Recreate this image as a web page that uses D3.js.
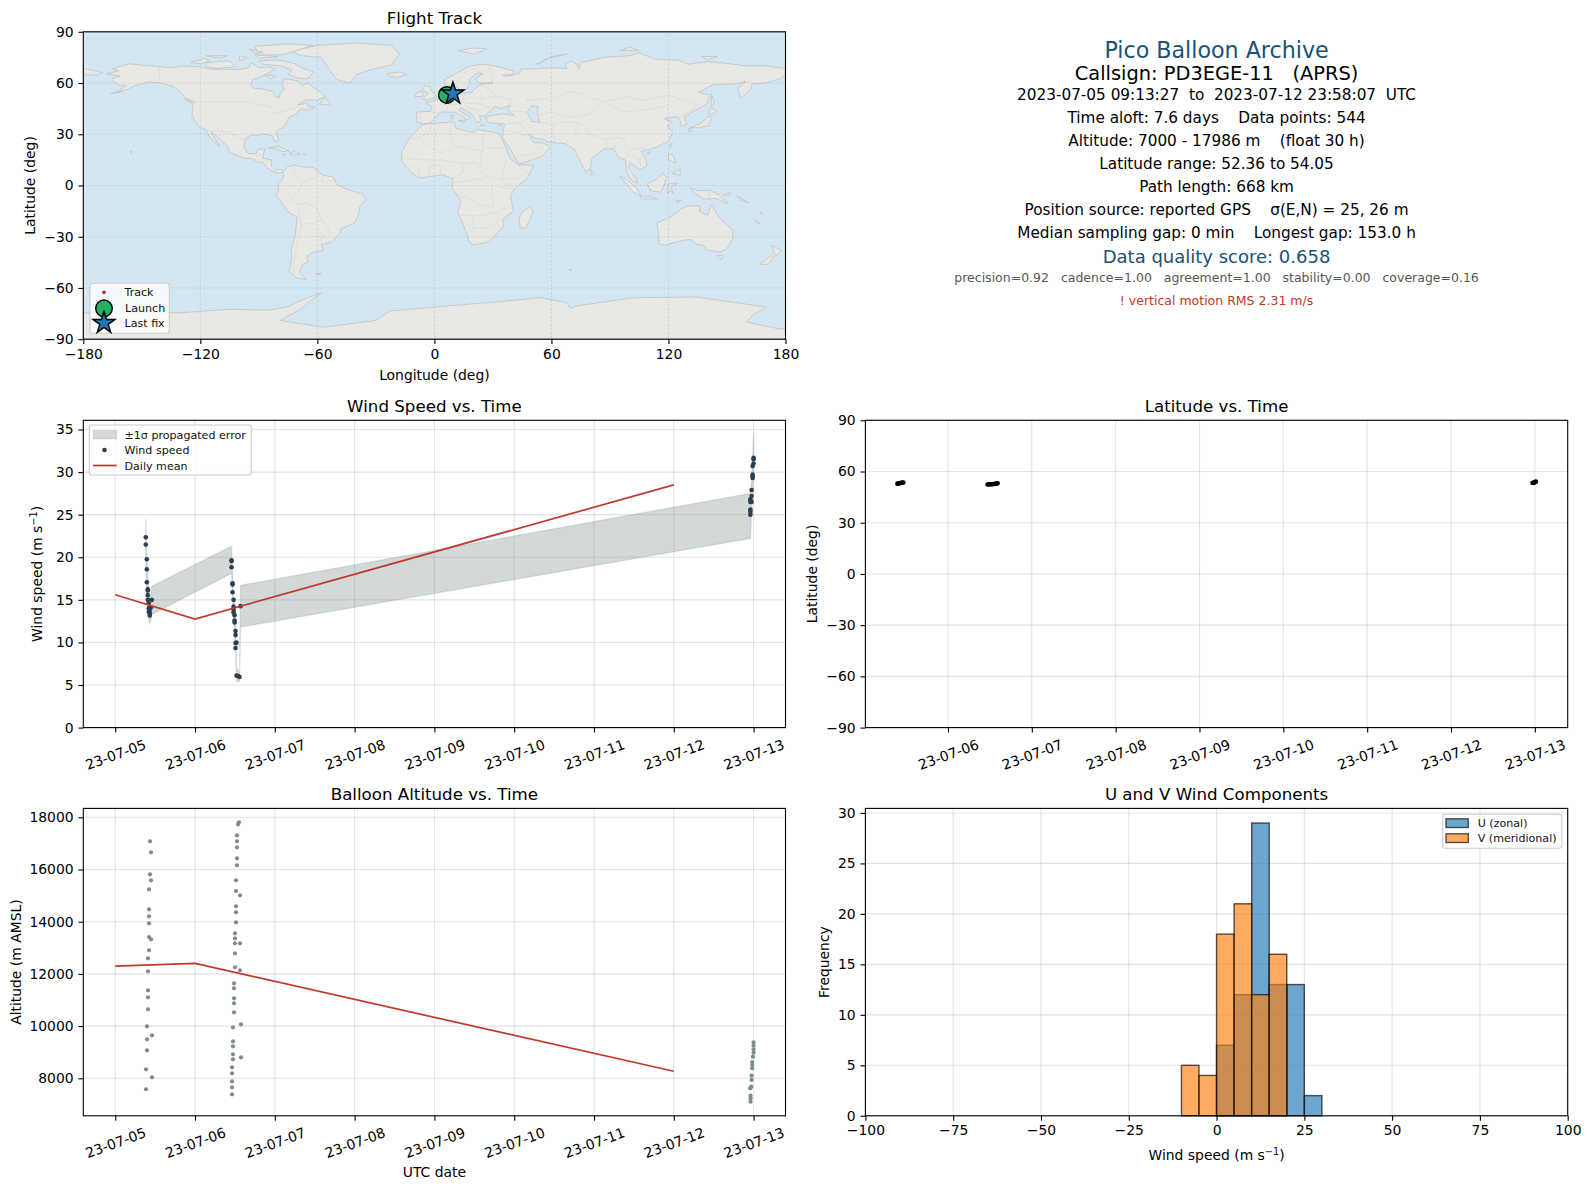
<!DOCTYPE html>
<html>
<head>
<meta charset="utf-8">
<script src="https://cdn.jsdelivr.net/npm/d3@7"></script>
<style>
  body { margin: 0; background: #fff; }
  svg { display: block; }
  text { font-family: 'DejaVu Sans', sans-serif; fill: #000; }
  .axis path, .axis line { stroke: #000; stroke-width: 1.1; }
  .axis text { font-size: 13.9px; }
  .title { font-size: 16.67px; text-anchor: middle; }
  .label { font-size: 13.9px; text-anchor: middle; }
  .legend-text { font-size: 11.1px; fill: #111; }
</style>
</head>
<body>
<div id="chart"></div>
<script>
// ---- data ----
const lonTicks = [-180, -120, -60, 0, 60, 120, 180];
const latTicks = [-90, -60, -30, 0, 30, 60, 90];
const windTicks = [0, 5, 10, 15, 20, 25, 30, 35];
const altTicks = [8000, 10000, 12000, 14000, 16000, 18000];
const histXTicks = [-100, -75, -50, -25, 0, 25, 50, 75, 100];
const histYTicks = [0, 5, 10, 15, 20, 25, 30];

// day of July 2023, wind speed in m/s
const windDays = [5.383, 5.383, 5.396, 5.396, 5.396, 5.408, 5.408, 5.408, 5.408, 5.458, 5.42, 5.446, 5.42, 5.433, 5.42, 5.433, 5.433,
  6.458, 6.458, 6.458, 6.47, 6.47, 6.47, 6.483, 6.483, 6.57, 6.483, 6.483, 6.496, 6.496, 6.496, 6.508, 6.508, 6.52, 6.508, 6.508, 6.52, 6.54, 6.558,
  13.0, 13.0, 13.0, 12.988, 12.988, 12.988, 12.988, 12.975, 12.975, 12.96, 12.975, 12.96, 12.96, 12.96, 12.96];
const windSpeed = [22.34, 21.5, 19.77, 18.6, 17.07, 16.25, 16.1, 15.55, 15.0, 15.0, 14.6, 14.1, 14.0, 13.83, 13.6, 13.44, 13.16,
  19.65, 19.55, 18.83, 16.95, 16.8, 15.9, 15.0, 14.2, 14.26, 13.83, 13.5, 13.2, 12.58, 12.35, 11.33, 10.86, 10.0, 9.92, 9.34, 6.1, 6.05, 5.94,
  31.68, 31.5, 31.0, 30.7, 29.7, 29.5, 29.3, 27.9, 27.2, 26.8, 26.5, 26.5, 25.6, 25.35, 25.0];

// +/-1 sigma envelope
const bandDays = [5.383, 5.396, 5.408, 5.42, 5.433, 5.446, 5.458, 6.458, 6.47, 6.483, 6.496, 6.508, 6.52, 6.54, 6.558, 6.57, 12.96, 12.975, 12.988, 13.0];
const bandLow = [20.1, 15.5, 14.0, 12.8, 12.15, 12.6, 13.3, 18.1, 15.2, 12.5, 11.0, 9.0, 5.5, 5.4, 5.4, 11.8, 22.2, 25.0, 27.5, 29.0];
const bandHigh = [24.5, 20.0, 18.0, 16.0, 14.8, 15.5, 16.6, 21.3, 18.5, 15.5, 14.5, 12.8, 7.0, 6.7, 6.6, 16.7, 27.5, 29.0, 32.0, 34.6];

const meanDays = [5, 6, 12];
const meanWind = [15.6, 12.75, 28.5];
const meanAlt = [12300, 12400, 8270];

const altDays = [5.436, 5.449, 5.436, 5.449, 5.424, 5.424, 5.424, 5.424, 5.424, 5.449, 5.424, 5.411, 5.411, 5.411, 5.411, 5.411, 5.399, 5.461, 5.399, 5.399, 5.386, 5.461, 5.386,
  6.551, 6.539, 6.526, 6.526, 6.526, 6.526, 6.526, 6.514, 6.514, 6.564, 6.514, 6.514, 6.514, 6.501, 6.501, 6.501, 6.564, 6.501, 6.501, 6.564, 6.489, 6.489, 6.489, 6.489, 6.489, 6.476, 6.576, 6.476, 6.476, 6.476, 6.476, 6.576, 6.464, 6.464, 6.464, 6.464, 6.464,
  13.0, 13.0, 13.0, 13.0, 12.992, 12.983, 12.983, 12.983, 12.975, 12.975, 12.971, 12.958, 12.962, 12.962, 12.962];
const altMeters = [17080, 16658, 15815, 15585, 15240, 14474, 14206, 13938, 13414, 13325, 12904, 12597, 12100, 11371, 11103, 10643, 9992, 9647, 9494, 9073, 8345, 8038, 7580,
  17807, 17731, 17309, 17080, 16850, 16428, 16160, 15585, 15177, 15011, 14589, 14360, 13976, 13555, 13363, 13172, 13172, 12789, 12252, 12137, 11640, 11448, 11065, 10873, 10528, 9954, 10069, 9417, 9226, 8919, 8728, 8805, 8421, 8192, 7885, 7655, 7387,
  9380, 9250, 9110, 8983, 8830, 8625, 8510, 8383, 8100, 7936, 7680, 7617, 7336, 7234, 7106];

const latDays = [5.397, 5.407, 5.417, 5.427, 5.437, 5.447, 5.457, 5.467, 6.472, 6.487, 6.502, 6.517, 6.532, 6.547, 6.562, 6.577, 6.592, 12.972, 12.982, 12.992, 13.002, 13.012];
const latValues = [52.9, 53.0, 53.1, 53.2, 53.3, 53.4, 53.5, 53.6, 52.4, 52.45, 52.5, 52.55, 52.6, 52.7, 52.8, 52.9, 53.1, 53.3, 53.45, 53.6, 53.8, 54.05];

const histLeft = [-10, -5, 0, 5, 10, 15, 20, 25];
const histU = [0, 0, 7, 12, 29, 13, 13, 2];
const histV = [5, 4, 18, 21, 12, 16, 0, 0];
const binWidth = 5;

const launchPoint = [6.4, 53];
const lastFixPoint = [9.5, 53.8];

const infoLines = [
  'Pico Balloon Archive',
  'Callsign: PD3EGE-11   (APRS)',
  '2023-07-05 09:13:27  to  2023-07-12 23:58:07  UTC',
  'Time aloft: 7.6 days    Data points: 544',
  'Altitude: 7000 - 17986 m    (float 30 h)',
  'Latitude range: 52.36 to 54.05',
  'Path length: 668 km',
  'Position source: reported GPS    σ(E,N) = 25, 26 m',
  'Median sampling gap: 0 min    Longest gap: 153.0 h',
  'Data quality score: 0.658',
  'precision=0.92   cadence=1.00   agreement=1.00   stability=0.00   coverage=0.16',
  '! vertical motion RMS 2.31 m/s'
];

// land outlines, lon/lat
const northAmerica = [[-168,65.5],[-164,66.5],[-162,67],[-165,68.5],[-156.5,71.3],[-150,70.5],[-141,69.6],[-135,69],[-128,70],[-120,69.5],[-115,68],[-108,68],[-100,68],[-95,69],[-94,72],[-90,69],[-85,69.5],[-81.5,68],[-85,66],[-87,64.5],[-93,62],[-94.5,59],[-92.5,57],[-88,56.5],[-82.5,55],[-82,52.5],[-79.5,51.2],[-79,54.5],[-77,56],[-78,59],[-77.5,62.5],[-73,62],[-69.5,61],[-68,58.5],[-65,60],[-62,57.5],[-58,54.5],[-56,52],[-60,50],[-66.5,50],[-70,47],[-65,48.5],[-64.5,46],[-61,46],[-64,44.5],[-66,44],[-67,45],[-70,43.5],[-70.5,41.7],[-74,40.5],[-75.5,38],[-76,35.5],[-78,34],[-81,31.5],[-80,27],[-80.5,25.2],[-81.8,26],[-83,29],[-85,29.7],[-89,30.2],[-90,29.2],[-94,29.5],[-97,27.5],[-97.7,22.5],[-95.5,18.8],[-91.5,18.5],[-90.5,21],[-87,21.5],[-88,16],[-83.5,15],[-83.5,11],[-81.5,9],[-79.5,9.5],[-77.3,8.6],[-78,7.5],[-80.5,7.3],[-83,8.3],[-85.5,10],[-87.5,13],[-91,14],[-94,16],[-97,15.8],[-101,17.5],[-105.5,20],[-105.5,22.5],[-109,26],[-112.5,30],[-114.7,31.7],[-112.3,27],[-110,23],[-112,24.5],[-115,28],[-117,32.5],[-120.5,34.5],[-122.5,37.5],[-124.3,40.5],[-124,46],[-123,49],[-127.5,51],[-130,54.5],[-134,58],[-140,60],[-146,60.7],[-152,59],[-157,56.5],[-163,54.8],[-158,58.5],[-162,59],[-165,61.5],[-165,63],[-161,64]];
const southAmerica = [[-77.3,8.6],[-75,11],[-72,12],[-68,11],[-62,10.5],[-57,6],[-52,5],[-50,0.5],[-44,-2.5],[-37,-5],[-35,-8],[-38.5,-13],[-39,-18],[-41,-22],[-48,-25.5],[-48.5,-28],[-53,-33.5],[-58,-34.5],[-57,-38],[-62,-39],[-65,-41],[-65,-45],[-67.5,-46],[-69,-51],[-65.5,-55],[-71,-54],[-74.5,-50],[-73,-42],[-73.5,-37],[-71.5,-30],[-70.3,-18.5],[-75,-15.5],[-81,-6],[-80,-2],[-80,1],[-77.5,4]];
const africa = [[-6,35.8],[10,37.3],[11,33.5],[20,31],[22,32.8],[32,31],[34.5,28],[37,21],[39,15.5],[43,12],[51,12],[47.5,4],[41,-2],[39,-6],[40.5,-15],[35,-20],[35.5,-24],[32.8,-27],[28,-33],[20,-34.8],[18,-33],[14.5,-22],[12,-16],[13.5,-9],[9,-1],[9.5,4],[4,6.3],[-4,5],[-8,4.4],[-13,9],[-17,14.5],[-16.5,20],[-13,27.5],[-9.5,31.5]];
const eurasia = [[-9,37],[-9,43],[-2,43.5],[-1,46],[-4.5,48.5],[1.5,50],[4,52],[8,54],[8,57],[10.5,57.5],[10,54.5],[14,54],[19,54.5],[21,57],[24,59.3],[30,60],[23,60],[21,62.5],[25,65.5],[22,65.8],[17.5,62],[18.5,60],[16.5,56.5],[13,55.5],[11,59],[6,58],[5,62],[12,66],[18,70],[25,71],[31,70],[41,67],[40,65],[35,64.5],[38,64],[44,66],[44,68],[54,68.5],[60,69],[68,68.5],[67,71],[70,73],[73,71],[74,68],[75,72],[81,73.5],[87,75],[100,76],[105,77.7],[113,74],[125,73.5],[130,71],[140,72.5],[150,71.5],[160,70],[170,70],[180,68.5],[180,65],[177,62.5],[170,60],[163,59.5],[162,56],[157,51],[155.5,57],[160,61],[155,59.5],[143,59],[135.5,54.5],[141,53],[140,48],[132,43],[128,40],[129.5,36],[126.5,34.5],[126,38],[125,40],[122,40],[118,39],[122,37],[119.5,35],[122,31],[120,26],[114,22.5],[110,21],[106,20],[108.5,15],[109,11.5],[105,9],[100.5,13.5],[99.5,10],[103.5,4],[104,1.3],[101,3],[98.5,8],[98,15],[94.5,16],[92,21.5],[87,21.5],[80.5,15.5],[80,10],[77.5,8],[73,18],[72,21],[67,24.5],[62,25],[57,26],[56.5,27],[52,27.5],[48.5,30],[51,25],[55,25],[56.5,24.5],[59.5,22.5],[55,17],[45,13],[43,13],[39,21],[35,28],[35,31],[36,36],[31,36.5],[27,37],[26.5,40],[29,41],[35,42],[41,41],[37.5,44.5],[39,47],[34,45],[31,46.5],[28,43],[26,40.7],[23,40.5],[24,38],[22,36.7],[19.5,41],[19,42],[13.5,45.5],[12.5,44],[18.5,40],[16,38],[15.5,40],[10.5,43],[3.5,43],[0,39.5],[-2,36.7],[-5.5,36]];
const antarctica = [[-180,-74.5],[-130,-74.5],[-105,-72.5],[-85,-73],[-75,-71],[-68,-67],[-58,-63],[-63,-67],[-68,-72],[-79,-79],[-57,-83],[-30,-79],[-23,-73.5],[6,-70.6],[33.7,-68],[54,-65.7],[67.9,-68.6],[69.6,-72],[73,-70.5],[102,-65.7],[134.5,-65.3],[170.4,-71.2],[163.6,-75.5],[160,-80],[177,-84],[180,-84],[180,-90],[-180,-90]];
const islands = [
  [[-73,78.2],[-68,80],[-60,82],[-40,83.5],[-22,82],[-18,77],[-22,70.5],[-32,68],[-40,65],[-43,60],[-50,62],[-53,66.5],[-55,70],[-58,75],[-68,76]],
  [[-80,73.5],[-72,71.5],[-68,69],[-62,66.5],[-65,62.5],[-70,63],[-75,65],[-73,67.5],[-78,70],[-88,71],[-90,73]],
  [[-117,72],[-105,73],[-102,69.5],[-112,68.5],[-117,69.5]],
  [[-125,72],[-118,74.5],[-115,73],[-120,71.3]],
  [[-90,76.5],[-78,76.5],[-72,78.5],[-62,82],[-75,83],[-92,81.5]],
  [[-92,76.5],[-80,75.5],[-90,74.5]],
  [[-117,76],[-106,76],[-110,74.5]],
  [[-100,76],[-96,75],[-100,73]],
  [[-95,80],[-88,78],[-92,77.5]],
  [[-87,65],[-81,64],[-84,62.5]],
  [[-59,47.7],[-56,51.5],[-53,47]],
  [[-128,50.7],[-124,49],[-125,48.5]],
  [[-85,22],[-80,23],[-74.3,20.2],[-78,19.9],[-82,22]],
  [[-74.5,18.5],[-72,20],[-68.5,18.5],[-71.5,17.8]],
  [[-78.3,18.4],[-76.3,18.2],[-77,17.8]],
  [[-67.2,18.4],[-65.7,18.3],[-66.5,17.9]],
  [[-156,20.2],[-155,19.7],[-155.7,19]],
  [[-160,55.2],[-165,54.3],[-166,53.7],[-161,54.7]],
  [[-24,65.5],[-18,66.5],[-14,65],[-19,63.4],[-23,64]],
  [[-5.5,50],[1.5,51.3],[0,54],[-2,56],[-2,58],[-5,58.5],[-6,56],[-3,54],[-5,52]],
  [[-10,52],[-6,52.2],[-6,55],[-9,54.5]],
  [[12,79],[20,80.5],[27,80],[20,77]],
  [[52,71],[57,74],[68,77],[60,75.5],[55,72]],
  [[95,79],[105,79],[100,81]],
  [[137,75.5],[145,75.5],[140,73.5]],
  [[142,54],[143.5,49],[142,46],[142,50]],
  [[131,34],[136,36],[140,40],[141.5,41],[142,39],[140.5,35],[136,33.8]],
  [[140,42],[142,45.5],[145,43.5],[143,42]],
  [[130,33.5],[132,33],[131,31]],
  [[120.5,23],[122,25],[121,22]],
  [[109,19],[111,20],[110,18.3]],
  [[80,9.5],[82,7],[80.5,6]],
  [[120,18],[122,18.5],[124,13],[122,14],[120,15]],
  [[122,7],[126,9.5],[126,6]],
  [[109,1],[113,3],[117,7],[119,5],[118,1],[116,-4],[111,-3]],
  [[95,5.5],[98,4],[104,-2],[106,-6],[102,-4]],
  [[105.5,-6.5],[111,-6.5],[114.5,-8],[106,-7.8]],
  [[119.5,-5],[120,1],[125,1.5],[121,-1],[123,-5],[121,-3]],
  [[131,-1],[135,-3],[141,-2.7],[146,-5.5],[150.5,-10.5],[144,-7.5],[138,-8],[133,-4]],
  [[148,-5.5],[152,-4],[151,-6]],
  [[155,-6],[158,-8],[161,-10],[157,-8.5]],
  [[167,-15],[168,-16.5],[167,-16.5]],
  [[124,-9],[127,-8.5],[124,-10]],
  [[114,-22],[122,-18],[126,-14],[130,-12],[136,-12],[136,-15],[140,-17.5],[142,-11],[146,-19],[153,-26],[153,-31],[150,-37],[146.5,-39],[140,-38],[138,-35],[135,-34.7],[131,-31.5],[124,-33],[118,-35],[115,-34],[115,-30]],
  [[145,-41],[148,-41],[147,-43.5]],
  [[173,-35],[178,-38],[175,-41.5],[174,-39]],
  [[172.5,-41],[174,-42],[170.5,-46.5],[167,-46]],
  [[164,-20],[167,-22.5],[166,-22]],
  [[49.5,-12],[50.5,-16],[47,-25],[44,-25],[43.5,-20],[44.5,-16]],
  [[-61,-51.5],[-58,-51.5],[-59,-52.3]],
  [[69,-49],[70.5,-49.5],[69.5,-49.8]],
  [[33,35.5],[34.5,35.6],[33.5,34.6]],
  [[23.5,35.5],[26,35.2],[24,35]],
  [[8.3,41],[9.7,41],[9.5,39],[8.5,39]],
  [[12.5,38],[15.5,38.2],[15,36.7]],
  [[-180,68.5],[-175,67.5],[-170,66],[-173,64.5],[-180,65]]
];
const caspian = [[50,46.5],[53,46.5],[53,41],[54,37],[50,37.5],[49,40],[47.5,43]];

// country borders, kept rough
const borders = [
  [[-141,69.6],[-141,60]], [[-123,49],[-95,49],[-84,46],[-82,42],[-76,44],[-70,46],[-67,45]],
  [[-117,32.5],[-106,31.5],[-97,26]], [[-92,14.5],[-91,17.5],[-89,18]], [[-89,14],[-83.5,15]],
  [[-72,12],[-72,7],[-67,2],[-70,-4],[-74,-8],[-70,-11],[-69,-17],[-70.3,-18.5]],
  [[-60,8],[-60,5],[-64,4],[-67,2]], [[-57,6],[-58,2],[-52,3]],
  [[-70,-11],[-65,-10],[-60,-14],[-58,-20],[-55,-24],[-54,-27],[-57,-30],[-53,-33.5]],
  [[-69,-17],[-68,-23],[-62,-22],[-58,-20]], [[-68,-23],[-70,-33],[-72,-45],[-72,-52]],
  [[-80,-3],[-75,-1],[-72,0]], [[-58,-27],[-58,-34]],
  [[-2,35],[-2,32],[-8,28],[-13,27.5]], [[-8,28],[-5,25],[3,19],[12,23],[25,20],[25,31]],
  [[9,37],[8,31],[10,24],[12,23]], [[25,22],[37,22]], [[24,20],[24,12],[22,10],[27,5],[34,4],[41,-2]],
  [[-16.5,16],[-5,15],[3,15],[14,13],[15,8],[9.5,4]], [[-8,4.4],[-8,10],[-12,12]], [[-3,5],[-3,11],[3,12],[3,6.3]],
  [[14,13],[22,13],[24,12]], [[34,4],[36,12],[37,15]], [[34,4],[42,4],[48,8],[43,11]],
  [[12,-6],[17,-7],[22,-11],[30,-13],[30,-9],[29,-2],[30,1],[27,5]], [[12,-17],[24,-18],[33,-15],[40.5,-11]],
  [[17,-29],[20,-25],[20,-18]], [[20,-25],[26,-25],[32,-22],[33,-15]], [[9.5,2],[14,2],[18,3],[27,5]], [[34,-1],[41,-2]],
  [[2,51],[6,49.5],[7.5,47.5],[6,44]], [[-1.7,43.3],[3,42.5]], [[-7,42],[-7,37]], [[7,54],[6,51],[6,49.5]],
  [[14,54],[15,51],[13,48],[10,47.5],[7.5,47.5]], [[24,54],[24,51],[22.5,48],[16,48],[15,51]], [[22.5,48],[28,45.5],[29,45]],
  [[16,46],[22,44],[23,41]], [[24,59],[28,56],[32,52],[24,51]], [[28,69.5],[30,62],[28,60]], [[20,69],[24,66]], [[12,61],[18,69]],
  [[32,52],[40,50],[38,47]], [[47.5,43],[40,43.5]], [[50,46.5],[47,50],[60,51],[70,55],[77,53],[87,49]],
  [[53,41],[60,43],[66,41],[73,40],[80,42],[87,49]], [[87,49],[98,52],[107,50],[120,53],[127,50],[135,48],[131,43]],
  [[87,49],[97,43],[112,45],[120,47]], [[54,37],[61,36],[61,30],[62,25]], [[61,36],[66,37],[74,37],[72,30],[67,24.5]],
  [[74,37],[78,33],[79,30],[88,27],[92,28],[97,28],[98,24],[101,21],[106,22],[108,21.5]], [[88,27],[88,22]], [[92,25],[92,21.5]],
  [[97,28],[94,24],[92,21.5]], [[98,15],[101,21]], [[101,18],[105,15],[106,11]], [[105,15],[107,17]],
  [[36,36],[44,37],[46,33],[48,30]], [[36,32],[39,32],[47,29]], [[44,37],[48,39],[49,40]], [[52,22],[55,22],[55,20],[52,17]], [[43,17],[48,18],[52,19]],
  [[125,40],[130,42.5]], [[141,-2.7],[141,-9]]
];

// ---- layout ----
const W = 1589, H = 1189;
const col = [{ left: 83.3, right: 785.5 }, { left: 865.4, right: 1567.7 }];
const row = [{ top: 31.8, bottom: 339.2 }, { top: 420.3, bottom: 727.6 }, { top: 808.4, bottom: 1115.8 }];

const dayDate = d => new Date(Date.UTC(2023, 6, 0) + d * 864e5);
const tickDate = d3.utcFormat('%y-%m-%d');

const svg = d3.select('#chart').append('svg').attr('width', W).attr('height', H);

const panel = (c, r) => {
  const { left, right } = col[c];
  const { top, bottom } = row[r];
  const g = svg.append('g');
  const plot = g.append('g');
  return { g, plot, left, right, top, bottom };
};

const frame = p =>
  p.g.append('rect')
    .attr('x', p.left).attr('y', p.top)
    .attr('width', p.right - p.left).attr('height', p.bottom - p.top)
    .attr('fill', 'none').attr('stroke', '#000').attr('stroke-width', 1.1);

const title = (p, t) =>
  p.g.append('text').attr('class', 'title')
    .attr('x', (p.left + p.right) / 2).attr('y', p.top - 8.3).text(t);

const xLabel = (p, y, t) => {
  const el = p.g.append('text').attr('class', 'label')
    .attr('x', (p.left + p.right) / 2).attr('y', y);
  return fillLabel(el, t);
};

const yLabel = (p, x, t) => {
  const el = p.g.append('text').attr('class', 'label')
    .attr('transform', `translate(${x},${(p.top + p.bottom) / 2}) rotate(-90)`)
    .attr('dy', '0.35em');
  return fillLabel(el, t);
};

// 'm s-1' gets a proper superscript
const fillLabel = (el, t) => {
  if (!t.endsWith('^')) return el.text(t);
  el.append('tspan').text('Wind speed (m s');
  el.append('tspan').attr('dy', -5).style('font-size', '9.7px').text('−1');
  el.append('tspan').attr('dy', 5).text(')');
  return el;
};

const grid = (p, xs, ys, x, y, dashed) => {
  const g = p.plot.append('g')
    .attr('stroke', dashed ? '#808080' : '#b0b0b0')
    .attr('stroke-opacity', dashed ? 0.22 : 0.35)
    .attr('stroke-width', dashed ? 1 : 1.1)
    .attr('stroke-dasharray', dashed ? '2,2' : null);
  g.selectAll('.gx').data(xs).join('line').attr('class', 'gx')
    .attr('x1', d => x(d)).attr('x2', d => x(d)).attr('y1', p.top).attr('y2', p.bottom);
  g.selectAll('.gy').data(ys).join('line').attr('class', 'gy')
    .attr('y1', d => y(d)).attr('y2', d => y(d)).attr('x1', p.left).attr('x2', p.right);
};

const axisLeft = (p, y, ticks) =>
  p.g.append('g').attr('class', 'axis')
    .attr('transform', `translate(${p.left},0)`)
    .call(d3.axisLeft(y).tickValues(ticks).tickSize(4.86).tickPadding(4.86).tickFormat(d => String(d).replace('-', '−')))
    .call(g => g.select('.domain').remove());

const axisBottom = (p, x, ticks) =>
  p.g.append('g').attr('class', 'axis')
    .attr('transform', `translate(0,${p.bottom})`)
    .call(d3.axisBottom(x).tickValues(ticks).tickSize(4.86).tickPadding(4.86).tickFormat(d => String(d).replace('-', '−')))
    .call(g => g.select('.domain').remove());

const dateAxis = (p, x) =>
  p.g.append('g').attr('class', 'axis')
    .attr('transform', `translate(0,${p.bottom})`)
    .call(d3.axisBottom(x).ticks(d3.utcDay.every(1)).tickSize(4.86).tickFormat(tickDate))
    .call(g => g.select('.domain').remove())
    .call(g => g.selectAll('text')
      .attr('y', 0).attr('dy', '0.35em')
      .attr('transform', 'translate(0,27) rotate(-20)')
      .attr('text-anchor', 'middle'));

const legendBox = (p, x0, y0, x1, y1) =>
  p.g.append('rect')
    .attr('x', x0).attr('y', y0).attr('width', x1 - x0).attr('height', y1 - y0)
    .attr('rx', 2.5)
    .attr('fill', '#fff').attr('fill-opacity', 0.8)
    .attr('stroke', '#ccc').attr('stroke-width', 1.1);

const legendText = (p, x, y, t) =>
  p.g.append('text').attr('class', 'legend-text')
    .attr('x', x).attr('y', y).attr('dy', '0.35em').text(t);

const star = d3.symbol().type(d3.symbolStar);

// ---- flight track ----
{
  const p = panel(0, 0);
  const x = d3.scaleLinear().domain([-180, 180]).range([p.left, p.right]);
  const y = d3.scaleLinear().domain([-90, 90]).range([p.bottom, p.top]);
  const line = d3.line(d => x(d[0]), d => y(d[1])).curve(d3.curveLinearClosed);

  p.plot.append('rect')
    .attr('x', p.left).attr('y', p.top)
    .attr('width', p.right - p.left).attr('height', p.bottom - p.top)
    .attr('fill', '#d4e6f1');

  const land = [northAmerica, southAmerica, africa, eurasia, antarctica, ...islands];
  p.plot.append('g')
    .selectAll('path').data(land).join('path')
    .attr('d', line)
    .attr('fill', '#e8e8e4')
    .attr('stroke', '#c2c7ca').attr('stroke-width', 0.9).attr('stroke-linejoin', 'round');

  p.plot.append('path').attr('d', line(caspian))
    .attr('fill', '#d4e6f1').attr('stroke', '#c2c7ca').attr('stroke-width', 0.9);

  p.plot.append('g')
    .selectAll('path').data(borders).join('path')
    .attr('d', d3.line(d => x(d[0]), d => y(d[1])))
    .attr('fill', 'none').attr('stroke', '#d9d9d7').attr('stroke-width', 0.7);

  grid(p, lonTicks, latTicks, x, y, true);

  // launch and last fix
  p.plot.append('circle')
    .attr('cx', x(launchPoint[0])).attr('cy', y(launchPoint[1])).attr('r', 8.3)
    .attr('fill', '#27ae60').attr('stroke', '#000').attr('stroke-width', 1.4);
  p.plot.append('path')
    .attr('transform', `translate(${x(lastFixPoint[0])},${y(lastFixPoint[1])})`)
    .attr('d', star.size(150)())
    .attr('fill', '#1f77b4').attr('stroke', '#000').attr('stroke-width', 1.4);

  frame(p);
  axisLeft(p, y, latTicks);
  axisBottom(p, x, lonTicks);
  title(p, 'Flight Track');
  xLabel(p, 380, 'Longitude (deg)');
  yLabel(p, 30.5, 'Latitude (deg)');

  legendBox(p, 90, 283.3, 169.3, 333.3);
  p.g.append('circle').attr('cx', 104).attr('cy', 292.3).attr('r', 1.9).attr('fill', '#c0392b');
  p.g.append('circle').attr('cx', 104).attr('cy', 308.3).attr('r', 8.3)
    .attr('fill', '#27ae60').attr('stroke', '#000').attr('stroke-width', 1.4);
  p.g.append('path').attr('transform', 'translate(104,323)')
    .attr('d', star.size(150)())
    .attr('fill', '#1f77b4').attr('stroke', '#000').attr('stroke-width', 1.4);
  legendText(p, 124.5, 292.3, 'Track');
  legendText(p, 125, 308.3, 'Launch');
  legendText(p, 124.5, 323.3, 'Last fix');
}

// ---- info text ----
{
  const ys = [50.5, 73.3, 94.3, 117.3, 140.3, 163.3, 186.3, 209.3, 232.3, 256.7, 277.7, 300.3];
  const sizes = [22.2, 19.4, 15.28, 15.28, 15.28, 15.28, 15.28, 15.28, 15.28, 18, 12.5, 12.5];
  const fills = ['#1a5276', '#000', '#000', '#000', '#000', '#000', '#000', '#000', '#000', '#1a5276', '#555', '#c0392b'];
  svg.append('g').selectAll('text').data(infoLines).join('text')
    .attr('x', (col[1].left + col[1].right) / 2)
    .attr('y', (d, i) => ys[i])
    .attr('dy', '0.35em')
    .attr('text-anchor', 'middle')
    .style('white-space', 'pre')
    .style('font-size', (d, i) => sizes[i] + 'px')
    .style('fill', (d, i) => fills[i])
    .text(d => d);
}

// ---- wind speed ----
{
  const p = panel(0, 1);
  const x = d3.scaleUtc().domain([dayDate(4.6), dayDate(13.4)]).range([p.left, p.right]);
  const y = d3.scaleLinear().domain([0, 36.08]).range([p.bottom, p.top]);
  grid(p, x.ticks(d3.utcDay.every(1)), windTicks, x, y);

  const band = d3.area()
    .x((d, i) => x(dayDate(bandDays[i])))
    .y0((d, i) => y(bandLow[i]))
    .y1((d, i) => y(bandHigh[i]));
  p.plot.append('path').attr('d', band(bandDays))
    .attr('fill', '#7f8c8d').attr('fill-opacity', 0.34)
    .attr('stroke', '#7f8c8d').attr('stroke-opacity', 0.2).attr('stroke-width', 1.4);

  p.plot.append('g').selectAll('circle').data(windDays).join('circle')
    .attr('cx', d => x(dayDate(d)))
    .attr('cy', (d, i) => y(windSpeed[i]))
    .attr('r', 2.3).attr('fill', '#2c3e50');

  p.plot.append('path')
    .attr('d', d3.line((d, i) => x(dayDate(d)), (d, i) => y(meanWind[i]))(meanDays))
    .attr('fill', 'none').attr('stroke', '#c0392b').attr('stroke-width', 1.7);

  frame(p);
  axisLeft(p, y, windTicks);
  dateAxis(p, x);
  title(p, 'Wind Speed vs. Time');
  yLabel(p, 37.5, 'm s^');

  legendBox(p, 89.3, 425, 251.3, 475);
  p.g.append('rect').attr('x', 93.3).attr('y', 430.3).attr('width', 23.4).attr('height', 8.7)
    .attr('fill', '#7f8c8d').attr('fill-opacity', 0.34).attr('stroke', '#7f8c8d').attr('stroke-opacity', 0.2);
  p.g.append('circle').attr('cx', 104.5).attr('cy', 450).attr('r', 2.3).attr('fill', '#2c3e50');
  p.g.append('line').attr('x1', 93).attr('x2', 116.7).attr('y1', 465.5).attr('y2', 465.5)
    .attr('stroke', '#c0392b').attr('stroke-width', 1.7);
  legendText(p, 124.5, 435, '±1σ propagated error');
  legendText(p, 124.5, 450, 'Wind speed');
  legendText(p, 124.5, 466, 'Daily mean');
}

// ---- latitude ----
{
  const p = panel(1, 1);
  const x = d3.scaleUtc().domain([dayDate(5.015), dayDate(13.392)]).range([p.left, p.right]);
  const y = d3.scaleLinear().domain([-90, 90]).range([p.bottom, p.top]);
  grid(p, x.ticks(d3.utcDay.every(1)), latTicks, x, y);
  p.plot.append('g').selectAll('circle').data(latDays).join('circle')
    .attr('cx', d => x(dayDate(d)))
    .attr('cy', (d, i) => y(latValues[i]))
    .attr('r', 2.3).attr('fill', '#000');
  frame(p);
  axisLeft(p, y, latTicks);
  dateAxis(p, x);
  title(p, 'Latitude vs. Time');
  yLabel(p, 811.7, 'Latitude (deg)');
}

// ---- altitude ----
{
  const p = panel(0, 2);
  const x = d3.scaleUtc().domain([dayDate(4.6), dayDate(13.4)]).range([p.left, p.right]);
  const y = d3.scaleLinear().domain([6563, 18341]).range([p.bottom, p.top]);
  grid(p, x.ticks(d3.utcDay.every(1)), altTicks, x, y);
  p.plot.append('g').selectAll('circle').data(altDays).join('circle')
    .attr('cx', d => x(dayDate(d)))
    .attr('cy', (d, i) => y(altMeters[i]))
    .attr('r', 2.1).attr('fill', '#7f8c8d');
  p.plot.append('path')
    .attr('d', d3.line((d, i) => x(dayDate(d)), (d, i) => y(meanAlt[i]))(meanDays))
    .attr('fill', 'none').attr('stroke', '#c0392b').attr('stroke-width', 1.7);
  frame(p);
  axisLeft(p, y, altTicks);
  dateAxis(p, x);
  title(p, 'Balloon Altitude vs. Time');
  xLabel(p, 1177, 'UTC date');
  yLabel(p, 16.2, 'Altitude (m AMSL)');
}

// ---- histogram ----
{
  const p = panel(1, 2);
  const x = d3.scaleLinear().domain([-100, 100]).range([p.left, p.right]);
  const y = d3.scaleLinear().domain([0, 30.45]).range([p.bottom, p.top]);
  grid(p, histXTicks, histYTicks, x, y);

  const bars = (values, fill) =>
    p.plot.append('g').selectAll('rect')
      .data(histLeft.filter((d, i) => values[i] > 0).map(d => ({ left: d, n: values[histLeft.indexOf(d)] })))
      .join('rect')
      .attr('x', d => x(d.left))
      .attr('y', d => y(d.n))
      .attr('width', d => x(d.left + binWidth) - x(d.left))
      .attr('height', d => y(0) - y(d.n))
      .attr('fill', fill).attr('fill-opacity', 0.65)
      .attr('stroke', '#000').attr('stroke-opacity', 0.65).attr('stroke-width', 1.4);

  bars(histU, '#1f77b4');
  bars(histV, '#ff7f0e');

  frame(p);
  axisLeft(p, y, histYTicks);
  axisBottom(p, x, histXTicks);
  title(p, 'U and V Wind Components');
  xLabel(p, 1160, 'm s^');
  yLabel(p, 823.9, 'Frequency');

  legendBox(p, 1442.7, 814.3, 1561.7, 848.3);
  [['#1f77b4', 818.8, 'U (zonal)'], ['#ff7f0e', 833.8, 'V (meridional)']].forEach(([c, yy, t]) => {
    p.g.append('rect').attr('x', 1446).attr('y', yy).attr('width', 22.3).attr('height', 8.7)
      .attr('fill', c).attr('fill-opacity', 0.65)
      .attr('stroke', '#000').attr('stroke-opacity', 0.65).attr('stroke-width', 1.4);
    legendText(p, 1477.7, yy + 4.5, t);
  });
}
</script>
</body>
</html>
